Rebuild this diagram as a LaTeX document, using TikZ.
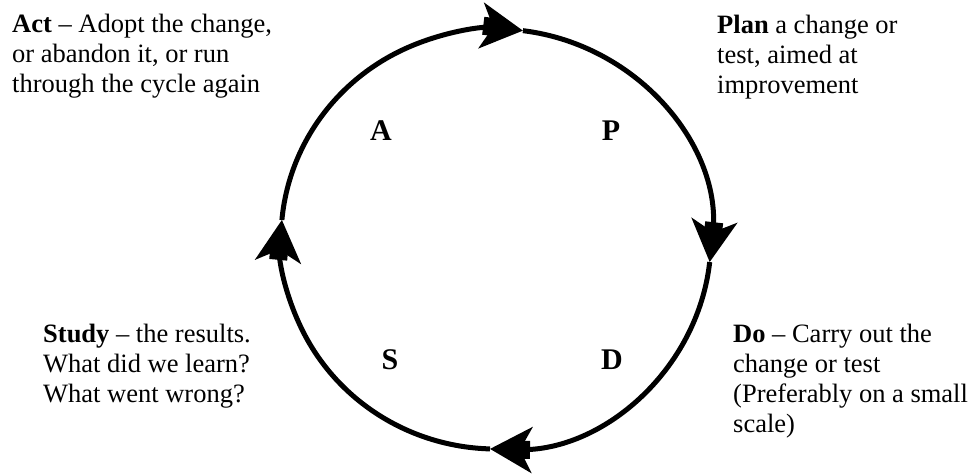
\documentclass[tikz,border=0pt]{standalone}
\usepackage{fontspec}
\setmainfont{Liberation Serif}
\usetikzlibrary{arrows.meta, calc}

\begin{document}
\begin{tikzpicture}[
    x=1pt, y=1pt,
    cyclearrow/.style={line width=5pt, -{Square[length=10pt,width=18pt,sep=-12pt] Stealth[length=42pt,width=46pt,inset=12pt,sep=0pt]}},
    phase/.style={font=\fontsize{30}{34}\selectfont\bfseries, anchor=base, inner sep=0pt},
    note/.style={font=\fontsize{26.5}{30}\selectfont, anchor=base west, align=left, inner sep=0pt}
]
\useasboundingbox (0,0) rectangle (976,474);

% Cycle
\coordinate (c) at (496,235);
\coordinate (tAct)   at ($(c)+(174.8:215 and 210)$);
\coordinate (tPlan)  at ($(c)+(82.8:215 and 210)$);
\coordinate (tDo)    at ($(c)+(-6.3:215 and 210)$);
\coordinate (tStudy) at ($(c)+(-91.6:215 and 210)$);

\draw[cyclearrow] (tAct) arc[start angle=174.8, end angle=82.8, x radius=215pt, y radius=210pt];
\draw[cyclearrow] (tPlan) arc[start angle=82.8, end angle=-6.3, x radius=215pt, y radius=210pt];
\draw[cyclearrow] (tDo) arc[start angle=-6.3, end angle=-91.6, x radius=215pt, y radius=210pt];
\draw[cyclearrow] (tStudy) arc[start angle=-91.6, end angle=-185.2, x radius=215pt, y radius=210pt];

% Phase letters
\node[phase] (A) at (381,333) {A};
\node[phase] (P) at (611,333) {P};
\node[phase] (S) at (390,105) {S};
\node[phase] (D) at (612,105) {D};

% Notes (anchored at the baseline of their last line)
\node[note] (actnote) at (12,381) {\textbf{Act} -- Adopt the change,\\or abandon it, or run\\through the cycle again};
\node[note] (plannote) at (717,380) {\textbf{Plan} a change or\\test, aimed at\\improvement};
\node[note] (studynote) at (43,72) {\textbf{Study} -- the results.\\What did we learn?\\What went wrong?};
\node[note] (donote) at (733,42) {\textbf{Do} -- Carry out the\\change or test\\(Preferably on a small\\scale)};

\end{tikzpicture}
\end{document}
